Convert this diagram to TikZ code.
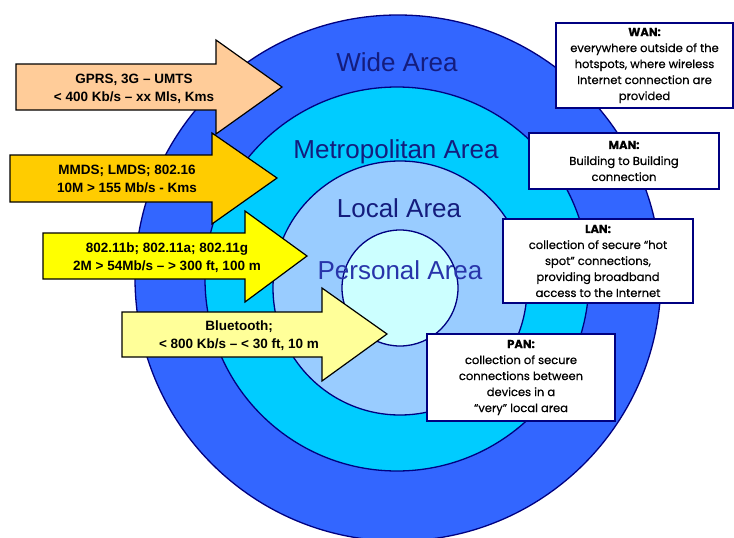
\documentclass[tikz,border=0pt]{standalone}
\usepackage{fontspec}
\setmainfont{Liberation Sans}
\newfontfamily\boxfont[FakeBold=0.5]{Poppins}
\definecolor{widecol}{RGB}{51,102,255}
\definecolor{metrocol}{RGB}{0,204,255}
\definecolor{localcol}{RGB}{153,204,255}
\definecolor{personalcol}{RGB}{204,255,255}
\definecolor{rimcol}{RGB}{0,0,128}
\definecolor{labelcol}{RGB}{20,28,125}
\definecolor{pancol}{RGB}{40,52,170}
\definecolor{gprscol}{RGB}{255,204,153}
\definecolor{mmdscol}{RGB}{255,204,0}
\definecolor{wlancol}{RGB}{255,255,0}
\definecolor{btcol}{RGB}{255,255,153}
\begin{document}
\begin{tikzpicture}[x=1pt,y=-1pt,
  ring/.style={draw=rimcol,line width=1.3pt},
  area/.style={text=labelcol,font=\fontsize{26}{30}\selectfont},
  blockarrow/.style={draw=black,line width=1.2pt,line join=miter},
  arrowtext/.style={align=center,font=\bfseries\fontsize{13.5}{18}\selectfont},
  infobox/.style={draw=rimcol,line width=1.2pt,fill=white,align=center,
    font=\boxfont\fontsize{11.5}{16}\selectfont,inner sep=0pt}]
\useasboundingbox (0,0) rectangle (734,538);
\fill [white] (0,0) rectangle (734,538);
\draw [ring,fill=widecol] (398,278) circle (263pt);
\draw [ring,fill=metrocol] (397,279) circle (192pt);
\draw [ring,fill=localcol] (400,288) circle (127pt);
\draw [ring,fill=personalcol] (400,288) circle (58pt);
\node [area] (wide) at (397,62) {Wide Area};
\node [area] (metro) at (396,152) {Metropolitan Area};
\node [area] (local) at (399,208) {Local Area};
\node [area,text=pancol] (personal) at (400,270) {Personal Area};
\draw [blockarrow,fill=gprscol] (16,64) -- (216,64) -- (216,40) -- (282,87) -- (216,134) -- (216,110) -- (16,110) -- cycle;
\node [arrowtext] (gprs) at (134,89) {GPRS, 3G -- UMTS\\< 400 Kb/s -- xx Mls, Kms};
\draw [blockarrow,fill=mmdscol] (10,155) -- (212,155) -- (212,133) -- (277,178) -- (212,224) -- (212,202) -- (10,202) -- cycle;
\node [arrowtext] (mmds) at (127,178.5) {MMDS; LMDS; 802.16\\10M > 155 Mb/s - Kms};
\draw [blockarrow,fill=wlancol] (43,233) -- (245,233) -- (245,211) -- (307,256) -- (245,302) -- (245,279) -- (43,279) -- cycle;
\node [arrowtext] (wlan) at (167,257.5) {802.11b; 802.11a; 802.11g\\2M > 54Mb/s -- > 300 ft, 100 m};
\draw [blockarrow,fill=btcol] (122,312) -- (322,312) -- (322,288) -- (387,334) -- (322,381) -- (322,357) -- (122,357) -- cycle;
\node [arrowtext] (bt) at (239,336) {Bluetooth;\\< 800 Kb/s -- < 30 ft, 10 m};
\node [infobox,minimum width=177pt,minimum height=85pt] (wan) at (644.5,65.5)
  {\textbf{WAN:}\\everywhere outside of the\\hotspots, where wireless\\Internet connection are\\provided};
\node [infobox,minimum width=190pt,minimum height=56pt] (man) at (624,161)
  {\textbf{MAN:}\\Building to Building\\connection};
\node [infobox,minimum width=190pt,minimum height=84pt] (lan) at (598,261)
  {\textbf{LAN:}\\collection of secure “hot\\spot” connections,\\providing broadband\\access to the Internet};
\node [infobox,minimum width=188pt,minimum height=87pt] (pan) at (521,377.5)
  {\textbf{PAN:}\\collection of secure\\connections between\\devices in a\\“very” local area};
\end{tikzpicture}
\end{document}
